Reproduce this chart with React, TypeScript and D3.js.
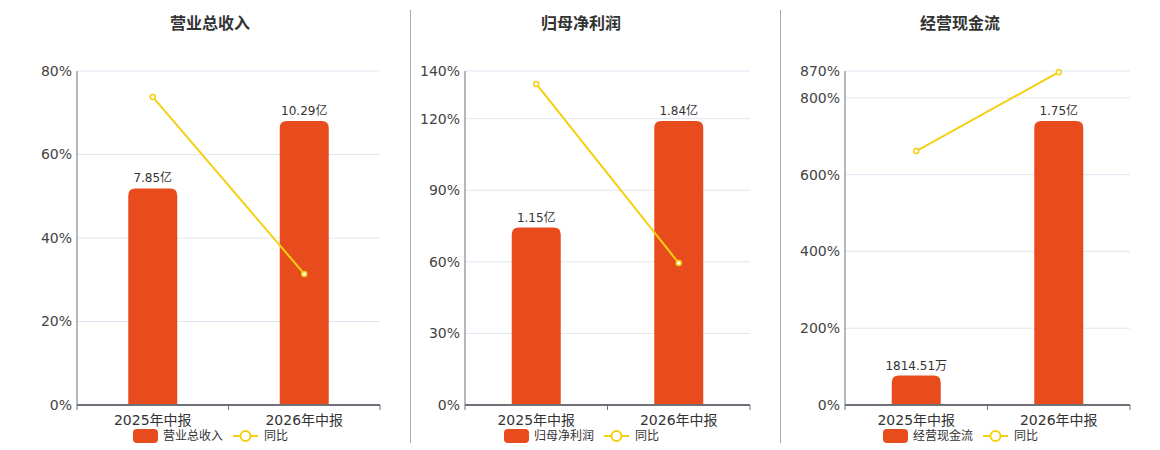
import { useEffect, useRef } from 'react';
import * as d3 from 'd3';

// Chart data
const categories = ['2025年中报', '2026年中报'];
const titles = ['营业总收入', '归母净利润', '经营现金流'];

const revenue = [7.85, 10.29];
const revenueLabels = ['7.85亿', '10.29亿'];
const revenueYoy = [73.8, 31.4];
const revenueTicks = [0, 20, 40, 60, 80];

const profit = [1.15, 1.84];
const profitLabels = ['1.15亿', '1.84亿'];
const profitYoy = [134.6, 59.5];
const profitTicks = [0, 30, 60, 90, 120, 140];

const cashflow = [0.181451, 1.75];
const cashflowLabels = ['1814.51万', '1.75亿'];
const cashflowYoy = [661.6, 867];
const cashflowTicks = [0, 200, 400, 600, 800, 870];

const BAR_COLOR = '#e84c1c';
const LINE_COLOR = '#f3d012';
const FONT = '"DejaVu Sans", "Noto Sans CJK SC", sans-serif';

const panels = [
  { title: titles[0], values: revenue, labels: revenueLabels, yoy: revenueYoy, ticks: revenueTicks, left: 77, right: 380, center: 210 },
  { title: titles[1], values: profit, labels: profitLabels, yoy: profitYoy, ticks: profitTicks, left: 465, right: 750, center: 581 },
  { title: titles[2], values: cashflow, labels: cashflowLabels, yoy: cashflowYoy, ticks: cashflowTicks, left: 845, right: 1130, center: 960 },
];
const dividers = [410.5, 780.5];

// bar with rounded top corners
const topRounded = (x: number, y: number, w: number, h: number, r: number) => {
  const rr = Math.min(r, h, w / 2);
  return `M${x},${y + h}V${y + rr}Q${x},${y} ${x + rr},${y}H${x + w - rr}Q${x + w},${y} ${x + w},${y + rr}V${y + h}Z`;
};

const App = () => {
  const chartRef = useRef<SVGSVGElement>(null);

  useEffect(() => {
    if (!chartRef.current) return;
    const svg = d3.select(chartRef.current);
    svg.selectAll('*').remove();

    const width = 1160;
    const height = 450;
    const top = 71;
    const bottom = 405;
    const barWidth = 49;

    svg.attr('width', width).attr('height', height).style('font-family', FONT);

    dividers.forEach((dx) => {
      svg.append('line')
        .attr('x1', dx).attr('x2', dx)
        .attr('y1', 10).attr('y2', 443)
        .attr('stroke', '#aaa').attr('stroke-width', 1);
    });

    panels.forEach((p) => {
      const g = svg.append('g');

      const x = d3.scalePoint<string>().domain(categories).range([p.left, p.right]).padding(0.5);
      const yPct = d3.scaleLinear().domain([0, p.ticks[p.ticks.length - 1]]).range([bottom, top]);
      const yBar = d3.scaleLinear().domain([0, (d3.max(p.values) as number) / 0.85]).range([bottom, top]);

      // title
      g.append('text')
        .attr('x', p.center).attr('y', 29)
        .attr('text-anchor', 'middle')
        .attr('font-size', 16).attr('font-weight', 'bold')
        .attr('fill', '#333')
        .text(p.title);

      // grid + tick labels
      p.ticks.forEach((t) => {
        if (t > 0) {
          g.append('line')
            .attr('x1', p.left).attr('x2', p.right)
            .attr('y1', yPct(t)).attr('y2', yPct(t))
            .attr('stroke', '#e0e6f1');
        }
        g.append('text')
          .attr('x', p.left - 5).attr('y', yPct(t))
          .attr('dy', '0.35em')
          .attr('text-anchor', 'end')
          .attr('font-size', 14)
          .attr('fill', '#444')
          .text(`${t}%`);
      });

      // y axis line
      g.append('line')
        .attr('x1', p.left).attr('x2', p.left)
        .attr('y1', top).attr('y2', bottom)
        .attr('stroke', '#6e7079');

      // bars
      categories.forEach((c, i) => {
        const cx = x(c) as number;
        const yTop = yBar(p.values[i]);
        g.append('path')
          .attr('d', topRounded(cx - barWidth / 2, yTop, barWidth, bottom - yTop, 7))
          .attr('fill', BAR_COLOR);
        g.append('text')
          .attr('x', cx).attr('y', yTop - 6)
          .attr('text-anchor', 'middle')
          .attr('font-size', 12)
          .attr('fill', '#333')
          .text(p.labels[i]);
      });

      // x axis
      g.append('line')
        .attr('x1', p.left).attr('x2', p.right)
        .attr('y1', bottom).attr('y2', bottom)
        .attr('stroke', '#6e7079').attr('stroke-width', 2);
      [p.left, (p.left + p.right) / 2, p.right].forEach((tx) => {
        g.append('line')
          .attr('x1', tx).attr('x2', tx)
          .attr('y1', bottom).attr('y2', bottom + 5)
          .attr('stroke', '#6e7079');
      });
      categories.forEach((c) => {
        g.append('text')
          .attr('x', x(c) as number).attr('y', 425)
          .attr('text-anchor', 'middle')
          .attr('font-size', 14)
          .attr('fill', '#333')
          .text(c);
      });

      // yoy line
      const line = d3.line<number>()
        .x((_, i) => x(categories[i]) as number)
        .y((d) => yPct(d));
      g.append('path')
        .datum(p.yoy)
        .attr('d', line)
        .attr('fill', 'none')
        .attr('stroke', LINE_COLOR)
        .attr('stroke-width', 2);
      p.yoy.forEach((v, i) => {
        g.append('circle')
          .attr('cx', x(categories[i]) as number).attr('cy', yPct(v))
          .attr('r', 2.5)
          .attr('fill', '#fff')
          .attr('stroke', LINE_COLOR)
          .attr('stroke-width', 1.5);
      });

      // legend
      const lg = g.append('g').attr('transform', `translate(${p.center},0)`);
      lg.append('rect')
        .attr('x', -77).attr('y', 429)
        .attr('width', 25).attr('height', 14)
        .attr('rx', 4)
        .attr('fill', BAR_COLOR);
      lg.append('text')
        .attr('x', -47).attr('y', 436)
        .attr('dy', '0.35em')
        .attr('font-size', 12)
        .attr('fill', '#333')
        .text(p.title);
      lg.append('line')
        .attr('x1', 23).attr('x2', 48)
        .attr('y1', 436).attr('y2', 436)
        .attr('stroke', LINE_COLOR).attr('stroke-width', 2);
      lg.append('circle')
        .attr('cx', 35.5).attr('cy', 436)
        .attr('r', 5)
        .attr('fill', '#fff')
        .attr('stroke', LINE_COLOR)
        .attr('stroke-width', 2);
      lg.append('text')
        .attr('x', 54).attr('y', 436)
        .attr('dy', '0.35em')
        .attr('font-size', 12)
        .attr('fill', '#333')
        .text('同比');
    });
  }, []);

  return (
    <div style={{ position: 'fixed', left: 0, top: 0, background: '#fff' }}>
      <svg ref={chartRef} />
    </div>
  );
};

export default App;
